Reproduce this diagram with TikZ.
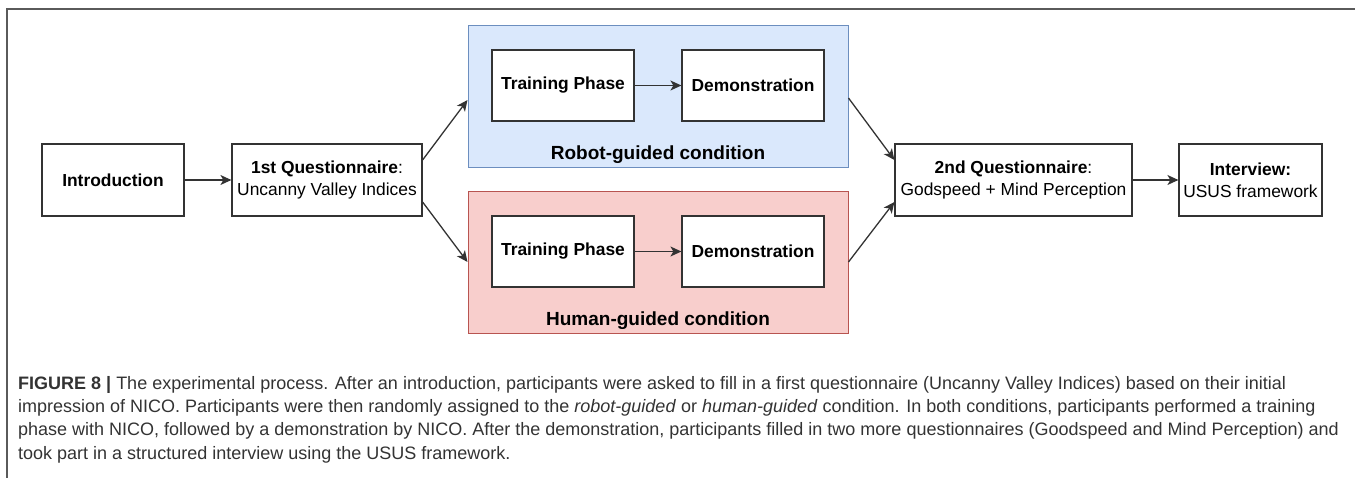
\documentclass[tikz,border=0pt]{standalone}
\usepackage{fontspec}
\setmainfont{Liberation Sans}
\usetikzlibrary{arrows.meta,calc}
\definecolor{boxdraw}{HTML}{333333}
\definecolor{bluefill}{HTML}{DAE8FC}
\definecolor{bluedraw}{HTML}{6C8EBF}
\definecolor{redfill}{HTML}{F8CECC}
\definecolor{reddraw}{HTML}{B85450}
\definecolor{framecol}{HTML}{5A5A5A}
\definecolor{captcol}{HTML}{333333}
\begin{document}
\begin{tikzpicture}[x=1pt,y=-1pt,
  stepbox/.style={draw=boxdraw,line width=1.2pt,fill=white,minimum height=72pt,inner sep=0pt,align=center,font=\fontsize{17.4}{22}\selectfont},
  groupbox/.style={line width=1pt,minimum width=380pt,minimum height=142pt,inner sep=0pt},
  grouplabel/.style={font=\fontsize{19}{22}\selectfont\bfseries},
  conn/.style={draw=boxdraw,line width=1.3pt,-{Stealth[length=11pt,width=10pt,inset=3pt]}}
]
\useasboundingbox (0,0) rectangle (1355,478);
% frame
\draw[framecol,line width=1.2pt] (7,478) -- (7,9) -- (1355,9);
% groups
\node[groupbox,draw=bluedraw,fill=bluefill] (blue) at (658,97) {};
\node[groupbox,draw=reddraw,fill=redfill] (red) at (658,263) {};
% nodes
\node[stepbox,minimum width=142pt] (intro) at (113,180) {\bfseries Introduction};
\node[stepbox,minimum width=190pt] (q1) at (327,180) {\textbf{1st Questionnaire}:\\Uncanny Valley Indices};
\node[stepbox,minimum width=142pt,minimum height=71pt] (tp1) at (563,85.5) {\bfseries Training Phase};
\node[stepbox,minimum width=142pt,minimum height=71pt] (dm1) at (753,85.5) {\bfseries Demonstration};
\node[grouplabel] (rlab) at (658,155) {Robot-guided condition};
\node[stepbox,minimum width=142pt,minimum height=71pt] (tp2) at (563,251.5) {\bfseries Training Phase};
\node[stepbox,minimum width=142pt,minimum height=71pt] (dm2) at (753,251.5) {\bfseries Demonstration};
\node[grouplabel] (hlab) at (658,321) {Human-guided condition};
\node[stepbox,minimum width=237pt] (q2) at (1013.5,180) {\textbf{2nd Questionnaire}:\\Godspeed + Mind Perception};
\node[stepbox,minimum width=143pt] (iv) at (1250.5,180) {\textbf{Interview:}\\USUS framework};
% connectors
\draw[conn] (intro.east) -- (q1.west);
\draw[conn] (tp1.east) -- (dm1.west);
\draw[conn] (tp2.east) -- (dm2.west);
\draw[conn] ([yshift=20pt]q1.east) -- ([yshift=-3pt]blue.west);
\draw[conn] ([yshift=-22pt]q1.east) -- ([yshift=1pt]red.west);
\draw[conn] ([yshift=-1pt]blue.east) -- ([yshift=20pt]q2.west);
\draw[conn] ([yshift=1pt]red.east) -- ([yshift=-22pt]q2.west);
\draw[conn] (q2.east) -- (iv.west);
% caption
\node[anchor=base west,align=left,inner sep=0pt,text=captcol,font=\fontsize{18}{23.2}\selectfont] (cap) at (18,459) {%
\textbf{FIGURE 8 |} The experimental process. After an introduction, participants were asked to fill in a first questionnaire (Uncanny Valley Indices) based on their initial\\
impression of NICO. Participants were then randomly assigned to the \textit{robot-guided} or \textit{human-guided} condition. In both conditions, participants performed a training\\
phase with NICO, followed by a demonstration by NICO. After the demonstration, participants filled in two more questionnaires (Goodspeed and Mind Perception) and\\
took part in a structured interview using the USUS framework.};
\end{tikzpicture}
\end{document}
